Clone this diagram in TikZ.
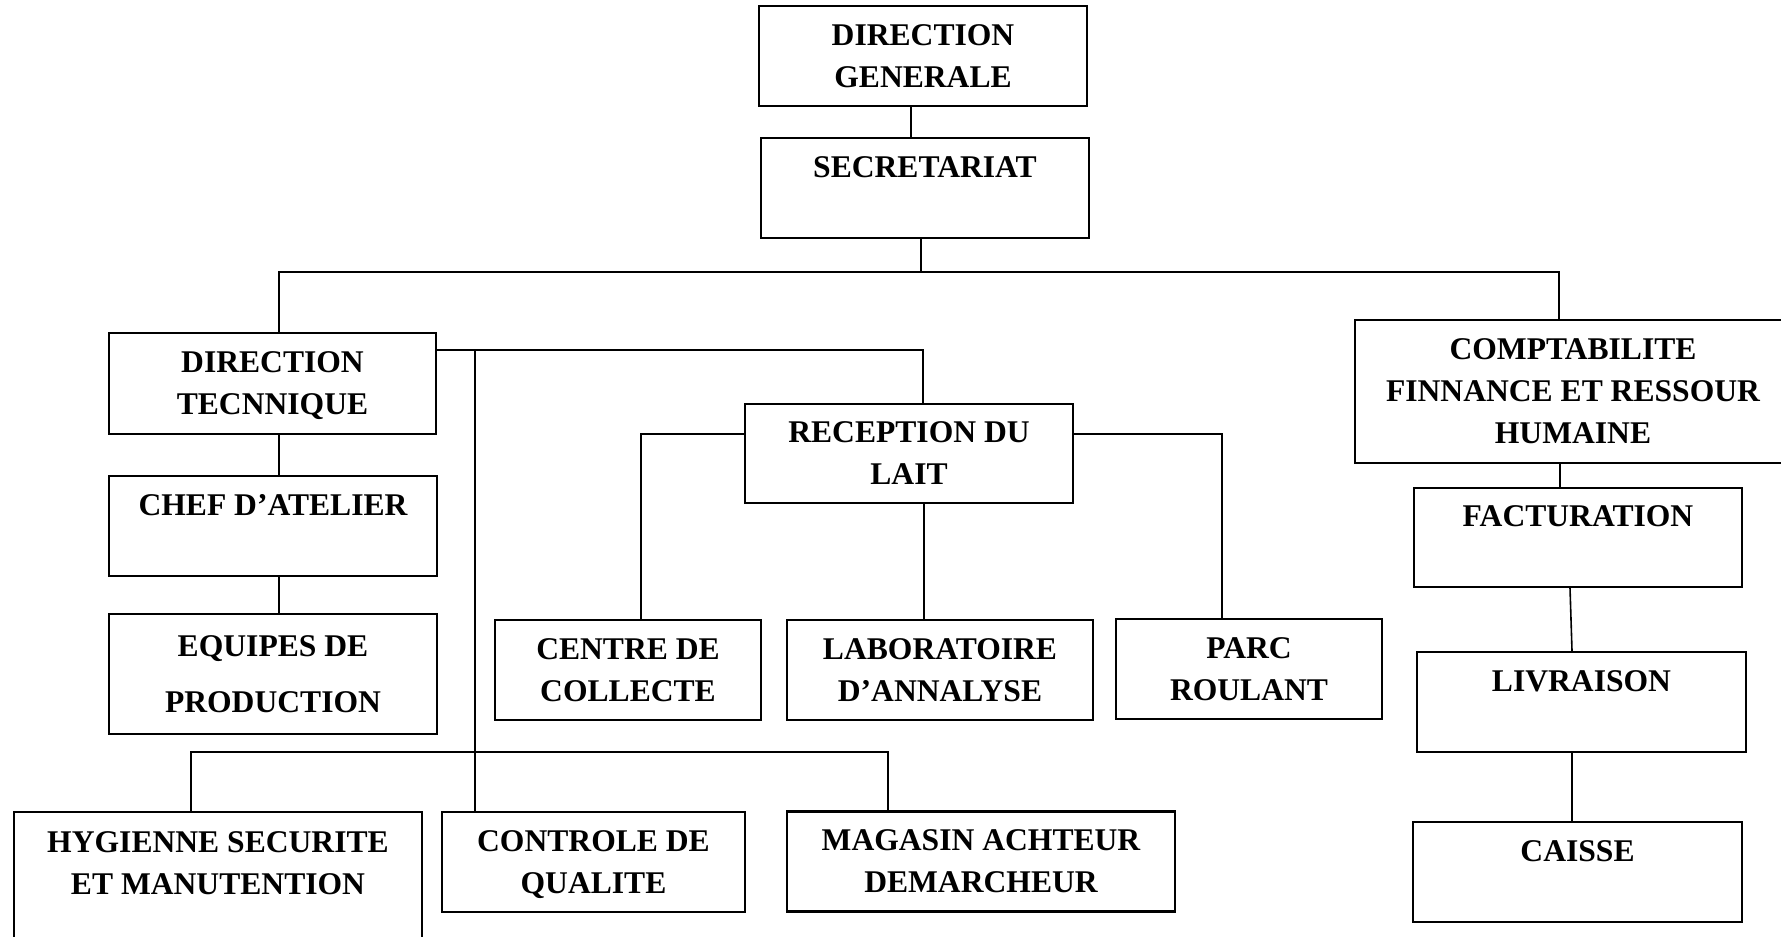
\documentclass[tikz,border=0pt]{standalone}
\usepackage{fontspec}
\setmainfont{Liberation Serif}
\usepackage{tikz}

\begin{document}
\begin{tikzpicture}[x=0.5pt, y=-0.5pt,
    unit/.style={draw=black, line width=1.1pt, rectangle, align=center, inner sep=0pt, text depth=-2.2pt,
      font=\fontsize{15.8}{21}\selectfont\bfseries},
    link/.style={draw=black, line width=0.8pt}]
      \useasboundingbox (0,0) rectangle (1781,936);

      % direction
      \node[unit, minimum width=164pt, minimum height=50pt] (dg) at (923, 56) {DIRECTION\\GENERALE};
      \node[unit, minimum width=164pt, minimum height=50pt] (sec) at (925, 188) {SECRETARIAT\\\mbox{}};

      % direction technique
      \node[unit, minimum width=163.5pt, minimum height=50.5pt] (dt) at (272.5, 383.5) {DIRECTION\\TECNNIQUE};
      \node[unit, minimum width=164pt, minimum height=50pt] (chef) at (273, 526) {CHEF D’ATELIER\\\mbox{}};
      \node[unit, minimum width=164pt, minimum height=60pt] (equipes) at (273, 674) {EQUIPES DE\\[7pt]PRODUCTION};

      \node[unit, minimum width=164pt, minimum height=49.5pt] (rec) at (909, 453.5) {RECEPTION DU\\LAIT};
      \node[unit, minimum width=133pt, minimum height=50pt] (centre) at (628, 670) {CENTRE DE\\COLLECTE};
      \node[unit, minimum width=153pt, minimum height=50pt] (labo) at (940, 670) {LABORATOIRE\\D’ANNALYSE};
      \node[unit, minimum width=133pt, minimum height=50pt] (parc) at (1249, 669) {PARC\\ROULANT};

      \node[unit, minimum width=204pt, minimum height=72pt] (hyg) at (218, 884) {HYGIENNE SECURITE\\ET MANUTENTION\\\mbox{}};
      \node[unit, minimum width=151.5pt, minimum height=50pt] (ctrl) at (593.5, 862) {CONTROLE DE\\QUALITE};
      \node[unit, minimum width=194pt, minimum height=50pt] (mag) at (981, 861.5) {MAGASIN ACHTEUR\\DEMARCHEUR};

      % comptabilite
      \node[unit, minimum width=218pt, minimum height=71.5pt] (compta) at (1573, 391.5) {COMPTABILITE\\FINNANCE ET RESSOUR\\HUMAINE};
      \node[unit, minimum width=164pt, minimum height=49.5pt] (fact) at (1578, 537.5) {FACTURATION\\\mbox{}};
      \node[unit, minimum width=164.5pt, minimum height=50pt] (livr) at (1581.5, 702) {LIVRAISON\\\mbox{}};
      \node[unit, minimum width=164.5pt, minimum height=50pt] (caisse) at (1577.5, 872) {CAISSE\\\mbox{}};

      \coordinate (top) at (921, 272);
      \coordinate (branch) at (475, 350);
      \coordinate (low) at (475, 752);

      \draw[link] ([xshift=-6pt]dg.south) -- ([xshift=-6pt]dg.south |- sec.north);
      \draw[link] ([xshift=-2pt]sec.south) -- (top);
      \draw[link] ([xshift=3.25pt]dt.north) |- (top) -| ([xshift=-7pt]compta.north);

      \draw[link] ([yshift=16.75pt]dt.east) -| ([xshift=7pt]rec.north);
      \draw[link] (branch) -- (branch |- ctrl.north);
      \draw[link] ([xshift=-13.5pt]hyg.north) |- (low) -| ([xshift=-46.5pt]mag.north);
      \draw[link] ([xshift=3.25pt]dt.south) -- ([xshift=3.25pt]dt.south |- chef.north);
      \draw[link] ([xshift=3pt]chef.south) -- ([xshift=3pt]chef.south |- equipes.north);

      \draw[link] ([yshift=9.75pt]rec.west) -| ([xshift=6.5pt]centre.north);
      \draw[link] ([yshift=9.75pt]rec.east) -| ([xshift=-13.5pt]parc.north);
      \draw[link] ([xshift=7.5pt]rec.south) -- ([xshift=7.5pt]rec.south |- labo.north);

      \draw[link] ([xshift=-6.5pt]compta.south) -- ([xshift=-6.5pt]compta.south |- fact.north);
      \draw[link] ([xshift=-4pt]fact.south) -- ([xshift=-4.75pt]livr.north);
      \draw[link] ([xshift=-4.75pt]livr.south) -- ([xshift=-4.75pt]livr.south |- caisse.north);
    \end{tikzpicture}
\end{document}
